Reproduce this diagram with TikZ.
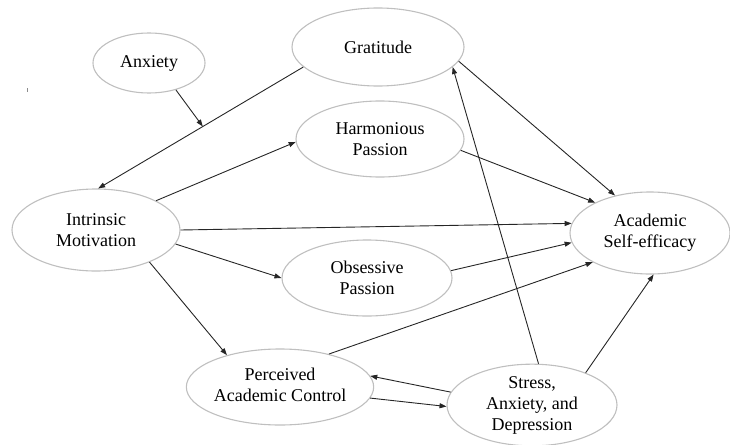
\documentclass[tikz,border=0pt]{standalone}
\usepackage{fontspec}
\setmainfont{Liberation Serif}
\usetikzlibrary{shapes.geometric,arrows.meta}
\begin{document}
\begin{tikzpicture}[x=1pt,y=-1pt,
  construct/.style={ellipse,draw=black!25,line width=1.1pt,inner sep=0pt,
    align=center,font=\fontsize{18}{21}\selectfont,text=black},
  path/.style={draw=black!85,line width=0.9pt,
    -{Triangle[length=7pt,width=5pt]}}]
\useasboundingbox (0,0) rectangle (730,444);

% constructs
\node[construct,minimum width=112pt,minimum height=60pt] (anx) at (149,63) {Anxiety};
\node[construct,minimum width=172pt,minimum height=78pt] (grat) at (378,47) {Gratitude};
\node[construct,minimum width=168pt,minimum height=76pt] (harm) at (380,139) {Harmonious\\Passion};
\node[construct,minimum width=168pt,minimum height=82pt] (intr) at (96,230) {Intrinsic\\Motivation};
\node[construct,minimum width=170pt,minimum height=76pt] (obs) at (367,278) {Obsessive\\Passion};
\node[construct,minimum width=170pt,minimum height=76pt] (pac) at (280,387) {\raisebox{4pt}{\begin{tabular}{@{}c@{}}Perceived\\[-0.5pt]Academic Control\end{tabular}}};
\node[construct,minimum width=170pt,minimum height=76pt] (sad) at (532,405) {Stress,\\Anxiety, and\\Depression};
\node[construct,minimum width=160pt,minimum height=82pt] (ase) at (650,233) {Academic\\Self-efficacy};

% small stray mark at the left
\draw[black!45,line width=0.7pt] (27,88) -- (27,92);

% paths
\draw[path] (grat.195) -- coordinate[pos=0.49] (mod) (intr.87);
\draw[path] (anx.-45) -- (mod);
\draw[path] (intr.26) -- (harm.182);
\draw[path] (intr.0) -- (ase.173);
\draw[path] (intr.-10) -- (obs.180);
\draw[path] (intr.-31) -- (pac.149);
\draw[path] (grat.-10) -- (ase.133);
\draw[path] (harm.-8) -- (ase.151);
\draw[path] (obs.5) -- (ase.187);
\draw[path] (pac.34) -- (ase.207);
\draw[path] (sad.81) -- (grat.-15);
\draw[path] (sad.31) -- (ase.-85);
\draw[path] (sad.171) -- (pac.7);
\draw[path] (pac.-7) -- (sad.181);
\end{tikzpicture}
\end{document}
